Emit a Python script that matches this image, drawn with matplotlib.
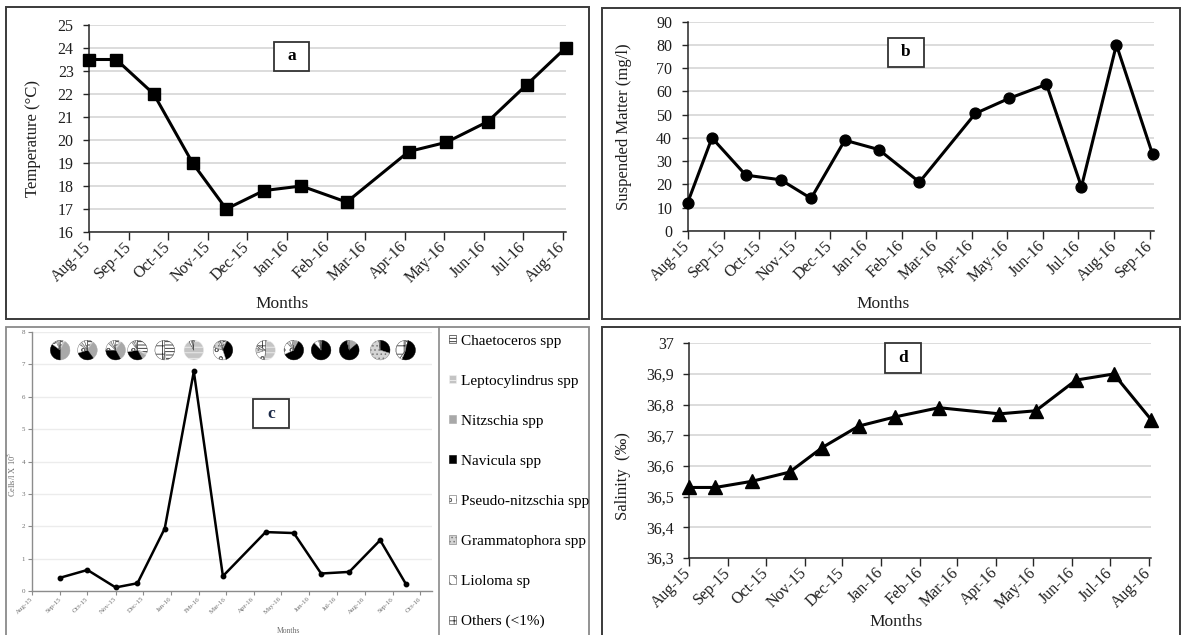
import numpy as np
import matplotlib
matplotlib.use("Agg")
import matplotlib.pyplot as plt
import matplotlib.dates as mdates
from matplotlib.patches import Rectangle, Patch
from matplotlib.ticker import FuncFormatter, MultipleLocator

plt.rcParams['font.family'] = ['Liberation Serif', 'DejaVu Serif']
plt.rcParams['mathtext.fontset'] = 'stix'
plt.rcParams['hatch.linewidth'] = 0.6

# ---------------------------------------------------------------- data
sample_dates = np.array([
    "2015-08-01", "2015-08-22", "2015-09-20", "2015-10-20", "2015-11-15",
    "2015-12-14", "2016-01-12", "2016-02-16", "2016-04-04", "2016-05-03",
    "2016-06-04", "2016-07-04", "2016-08-03"], dtype="datetime64[D]")
temperature = [23.5, 23.5, 22.0, 19.0, 17.0, 17.8, 18.0, 17.3, 19.5, 19.9,
               20.8, 22.4, 24.0]

suspended_dates = np.append(sample_dates, np.datetime64("2016-09-03"))
suspended_matter = [12, 40, 24, 22, 14, 39, 35, 21, 50.5, 57, 63, 19, 80, 33]

salinity = [36.53, 36.53, 36.55, 36.58, 36.66, 36.73, 36.76, 36.79, 36.77,
            36.78, 36.88, 36.90, 36.75]

phyto_dates = np.array([
    "2015-09-01", "2015-10-01", "2015-11-01", "2015-11-25", "2015-12-25",
    "2016-01-26", "2016-02-27", "2016-04-14", "2016-05-15", "2016-06-14",
    "2016-07-15", "2016-08-18", "2016-09-15"], dtype="datetime64[D]")
phyto_cells = [0.41, 0.65, 0.11, 0.24, 1.93, 6.78, 0.46, 1.82, 1.79, 0.54,
               0.59, 1.57, 0.23]

taxa = ["Chaetoceros spp", "Leptocylindrus spp", "Nitzschia spp",
        "Navicula spp", "Pseudo-nitzschia spp", "Grammatophora spp",
        "Lioloma sp", "Others (<1%)"]
# relative share of each taxon per sampling (same order as taxa)
taxa_share = [
    [0.05, 0.03, 0.42, 0.35, 0.08, 0.03, 0.02, 0.02],
    [0.08, 0.02, 0.30, 0.30, 0.15, 0.05, 0.05, 0.05],
    [0.06, 0.04, 0.32, 0.33, 0.12, 0.05, 0.04, 0.04],
    [0.30, 0.04, 0.08, 0.30, 0.18, 0.04, 0.03, 0.03],
    [0.48, 0.02, 0.00, 0.00, 0.02, 0.00, 0.00, 0.48],
    [0.02, 0.90, 0.00, 0.00, 0.04, 0.02, 0.00, 0.02],
    [0.05, 0.00, 0.02, 0.38, 0.35, 0.12, 0.04, 0.04],
    [0.02, 0.50, 0.00, 0.00, 0.18, 0.08, 0.06, 0.16],
    [0.00, 0.00, 0.08, 0.60, 0.20, 0.05, 0.04, 0.03],
    [0.02, 0.00, 0.00, 0.86, 0.08, 0.02, 0.00, 0.02],
    [0.00, 0.00, 0.14, 0.82, 0.02, 0.00, 0.00, 0.02],
    [0.00, 0.00, 0.00, 0.30, 0.00, 0.68, 0.00, 0.02],
    [0.04, 0.00, 0.00, 0.52, 0.04, 0.00, 0.00, 0.40],
]

# fill / hatch / edge for every taxon
taxa_face = ["white", "#c4c4c4", "#a8a8a8", "black", "white", "#d4d4d4", "white", "white"]
taxa_hatch = ["-----", "---", None, None, "oo", "....", "\\\\\\", "++"]
taxa_edge = ["#222222", "#f0f0f0", "#a8a8a8", "black", "#666666", "#777777", "#555555", "#333333"]

# ---------------------------------------------------------------- layout
W, H, DPI = 1182, 635, 100
fig = plt.figure(figsize=(W / DPI, H / DPI), dpi=DPI)
START = np.datetime64("2015-08-01")
INK = "#1e1e1e"


def frac(x0, y0, x1, y1):
    return [x0 / W, 1 - y1 / H, (x1 - x0) / W, (y1 - y0) / H]


def frame(x0, y0, x1, y1, color="#3a3a3a", lw=1.4, z=0):
    fig.add_artist(Rectangle((x0 / W, 1 - y1 / H), (x1 - x0) / W, (y1 - y0) / H,
                             transform=fig.transFigure, fill=False,
                             edgecolor=color, linewidth=lw, zorder=z))


def tag(x0, y0, x1, y1, letter, color="black"):
    fig.add_artist(Rectangle((x0 / W, 1 - y1 / H), (x1 - x0) / W, (y1 - y0) / H,
                             transform=fig.transFigure, facecolor="white",
                             edgecolor="#333333", linewidth=1.3, zorder=20))
    fig.text((x0 + x1) / 2 / W, 1 - (y0 + y1) / 2 / H, letter, ha="center",
             va="center", fontsize=12.5, fontweight="bold", color=color,
             zorder=21)


def month_axis(ax, end, ylim, ystep, ylabel, ylab_xy, xlab_xy, fs=11.5):
    ax.set_xlim(START, end)
    ax.set_ylim(*ylim)
    ax.yaxis.set_major_locator(MultipleLocator(ystep))
    ax.xaxis.set_major_locator(mdates.MonthLocator())
    ax.xaxis.set_major_formatter(mdates.DateFormatter("%b-%y"))
    ax.grid(axis="y", color="#d9d9d9", lw=1.3)
    ax.set_axisbelow(True)
    for s in ("top", "right"):
        ax.spines[s].set_visible(False)
    for s in ("left", "bottom"):
        ax.spines[s].set_color("#262626")
        ax.spines[s].set_linewidth(1.1)
    ax.tick_params(axis="x", length=6, width=1, color="#262626",
                   labelsize=fs, labelcolor=INK, pad=3)
    ax.tick_params(axis="y", length=4, width=1, color="#262626",
                   labelsize=fs, labelcolor=INK, pad=7)
    for lab in ax.get_xticklabels():
        lab.set_rotation(45)
        lab.set_ha("right")
        lab.set_va("center")
        lab.set_rotation_mode("anchor")
    ax.set_ylabel(ylabel, fontsize=12, color=INK)
    ax.yaxis.set_label_coords(*ylab_xy)
    ax.set_xlabel("Months", fontsize=12.5, color=INK)
    ax.xaxis.set_label_coords(*xlab_xy)
    ax.xaxis.label.set_va("center")


# outer panel frames
frame(6, 7, 589, 319)
frame(602, 8, 1180, 319)
frame(6, 327, 589, 645, color="#8a8a8a", lw=1.3)
frame(602, 327, 1180, 645)
fig.add_artist(plt.Line2D([439 / W, 439 / W], [1 - 327 / H, 0],
                          transform=fig.transFigure, color="#8a8a8a", lw=1.2))

# ---------------------------------------------------------------- a: temperature
ax_a = fig.add_axes(frac(89, 25, 565.5, 232))
ax_a.plot(sample_dates, temperature, color="black", lw=2.2, marker="s",
          ms=8.5, mfc="black", mec="black", clip_on=False, zorder=3)
month_axis(ax_a, sample_dates[-1], (16, 25), 1, "Temperature (°C)",
           (-0.10, 0.45), (0.405, -0.35))
tag(274, 42, 309, 71, "a")

# ---------------------------------------------------------------- b: suspended matter
ax_b = fig.add_axes(frac(687.5, 21.5, 1153.7, 231))
ax_b.plot(suspended_dates, suspended_matter, color="black", lw=2.2, marker="o",
          ms=7.8, mfc="black", mec="black", clip_on=False, zorder=3)
month_axis(ax_b, suspended_dates[-1] + np.timedelta64(1, "D"), (0, 90), 10,
           "Suspended Matter (mg/l)", (-0.12, 0.5), (0.419, -0.35))
tag(888, 38, 924, 67, "b")

# ---------------------------------------------------------------- d: salinity
ax_d = fig.add_axes(frac(689, 343.3, 1151.4, 558))
ax_d.plot(sample_dates, salinity, color="black", lw=2.2, marker="^",
          ms=9.5, mfc="black", mec="black", clip_on=False, zorder=3)
month_axis(ax_d, sample_dates[-1], (36.3, 37.0), 0.1, "Salinity  (‰)",
           (-0.125, 0.38), (0.447, -0.30))


def comma(v, pos):
    s = f"{v:.1f}".replace(".", ",")
    return s[:-2] if s.endswith(",0") else s


ax_d.yaxis.set_major_formatter(FuncFormatter(comma))
tag(885, 343, 921, 373, "d")

# ---------------------------------------------------------------- c: phytoplankton
GREY = "#6e6e6e"
ax_c = fig.add_axes(frac(32, 332, 432, 591))
ax_c.plot(phyto_dates, phyto_cells, color="black", lw=1.8, marker="o", ms=3.2,
          zorder=3)
ax_c.set_xlim(START, np.datetime64("2016-10-14"))
ax_c.set_ylim(0, 8)
ax_c.yaxis.set_major_locator(MultipleLocator(1))
ax_c.xaxis.set_major_locator(mdates.MonthLocator())
ax_c.xaxis.set_major_formatter(mdates.DateFormatter("%b-%y"))
ax_c.grid(axis="y", color="#ececec", lw=1.0)
ax_c.set_axisbelow(True)
for s in ("top", "right"):
    ax_c.spines[s].set_visible(False)
for s in ("left", "bottom"):
    ax_c.spines[s].set_color("#8c8c8c")
    ax_c.spines[s].set_linewidth(1.0)
ax_c.tick_params(axis="both", length=3, width=0.8, color="#8c8c8c",
                 labelsize=5, labelcolor=GREY, pad=2)
for lab in ax_c.get_xticklabels():
    lab.set_rotation(45)
    lab.set_ha("right")
    lab.set_va("center")
    lab.set_rotation_mode("anchor")
ax_c.set_ylabel(r"Cells/l X 10$^{5}$", fontsize=6, color=GREY)
ax_c.yaxis.set_label_coords(-0.035, 0.45)
ax_c.set_xlabel("Months", fontsize=5.5, color=GREY)
ax_c.xaxis.set_label_coords(0.64, -0.155)
ax_c.xaxis.label.set_va("center")
tag(253, 399, 289, 428, "c", color="#1c2a48")

# composition pies above each sampling point
PIE_Y = 7.44
PIE_R = 10
for d, shares in zip(phyto_dates, taxa_share):
    px, py = ax_c.transData.transform((mdates.date2num(d), PIE_Y))
    ax_p = fig.add_axes([(px - PIE_R) / W, (py - PIE_R) / H,
                         2 * PIE_R / W, 2 * PIE_R / H])
    wedges, _ = ax_p.pie(shares, colors=taxa_face, startangle=90,
                         counterclock=False,
                         wedgeprops=dict(linewidth=0.3))
    for w, hch, ec in zip(wedges, taxa_hatch, taxa_edge):
        w.set_edgecolor(ec)
        if hch:
            w.set_hatch(hch)
    ax_p.set_xlim(-1.02, 1.02)
    ax_p.set_ylim(-1.02, 1.02)
    ax_p.axis("off")

# legend of taxa
ax_leg = fig.add_axes(frac(441, 327, 589, 635))
ax_leg.axis("off")
handles = [Patch(facecolor=f, edgecolor=e, hatch=h, linewidth=0.4)
           for f, e, h in zip(taxa_face, taxa_edge, taxa_hatch)]
ax_leg.legend(handles, taxa, loc="upper left", bbox_to_anchor=(0.0, 1.0),
              frameon=False, fontsize=11, handlelength=0.45, handleheight=0.45,
              handletextpad=0.35, labelspacing=1.77, borderaxespad=0.3,
              borderpad=0.2)

fig.savefig("out.png", dpi=DPI)
